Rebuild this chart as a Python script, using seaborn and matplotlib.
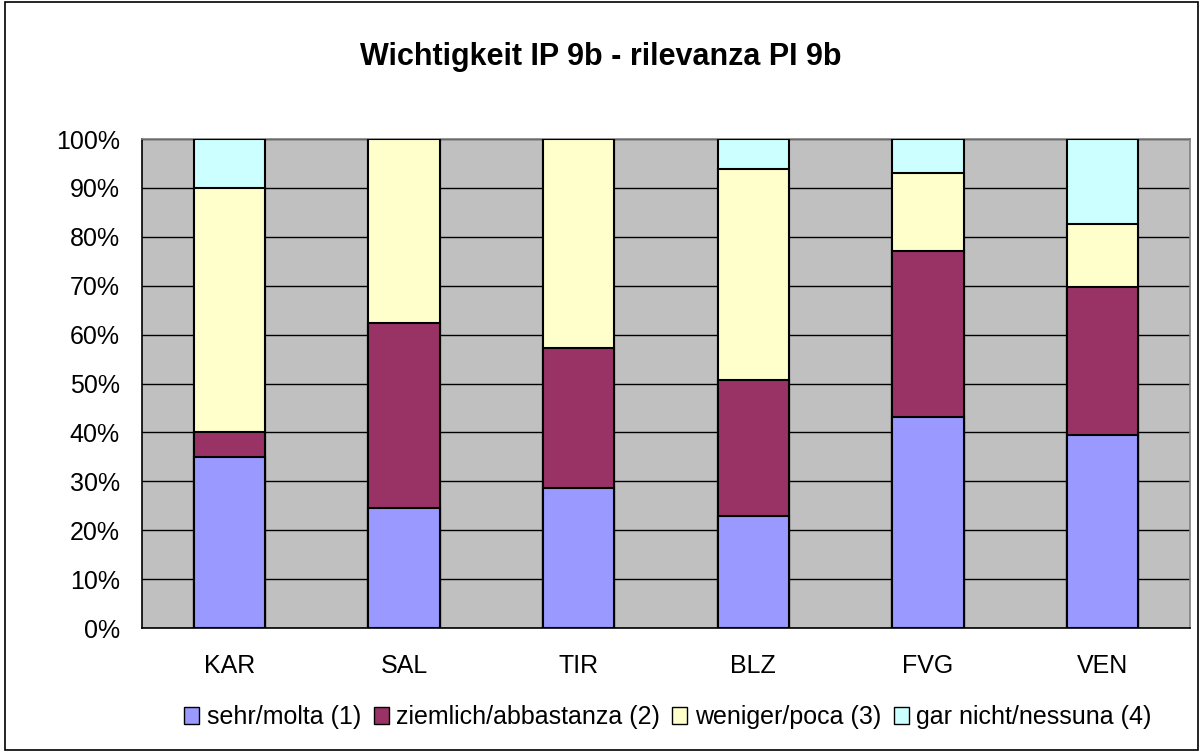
import matplotlib
matplotlib.use("Agg")
import matplotlib.pyplot as plt
import seaborn as sns
import numpy as np
import pandas as pd
from matplotlib.ticker import FixedLocator, FuncFormatter
from matplotlib.patches import Patch

categories = ["KAR", "SAL", "TIR", "BLZ", "FVG", "VEN"]
sehr = [35.0, 24.5, 28.6, 22.9, 43.1, 39.5]
ziemlich = [5.0, 37.9, 28.6, 27.8, 33.9, 30.3]
weniger = [50.0, 37.6, 42.8, 43.2, 16.1, 12.9]
garnicht = [10.0, 0.0, 0.0, 6.1, 6.9, 17.3]
series_names = ["sehr/molta (1)", "ziemlich/abbastanza (2)", "weniger/poca (3)", "gar nicht/nessuna (4)"]
colors = ["#9999FF", "#993366", "#FFFFCC", "#CCFFFF"]
title = "Wichtigkeit IP 9b - rilevanza PI 9b"
yticks = [0, 10, 20, 30, 40, 50, 60, 70, 80, 90, 100]

sns.set_style("white")
plt.rcParams['font.family'] = ['Liberation Sans', 'DejaVu Sans']
plt.rcParams['text.color'] = 'black'
plt.rcParams['xtick.color'] = 'black'
plt.rcParams['ytick.color'] = 'black'
plt.rcParams['axes.labelcolor'] = 'black'

series = [sehr, ziemlich, weniger, garnicht]
cum = np.cumsum(np.array(series), axis=0)

fig = plt.figure(figsize=(12.02, 7.52), dpi=100)
ax = fig.add_axes([142/1202, 1 - 628/752, (1190-142)/1202, (628-139)/752])
ax.set_facecolor("#C0C0C0")

# draw cumulative bars from top down so lower segments overlay
for i in range(3, -1, -1):
    df = pd.DataFrame({"cat": categories, "val": cum[i]})
    sns.barplot(data=df, x="cat", y="val", color=colors[i], saturation=1,
                edgecolor="black", linewidth=1.5, width=0.41, ax=ax, zorder=3)

ax.set_xlim(-0.5, 5.5)
ax.set_ylim(0, 100)
ax.yaxis.set_major_locator(FixedLocator(yticks))
ax.yaxis.set_major_formatter(FuncFormatter(lambda v, p: f"{int(v)}%"))
ax.grid(axis="y", color="black", linewidth=1, zorder=0)
ax.set_axisbelow(True)

ax.set_xticks(np.arange(-0.5, 6, 1))
ax.set_xticklabels([])
ax.set_xticks(np.arange(6), minor=True)
ax.set_xticklabels(categories, minor=True)
ax.tick_params(axis="x", which="major", length=6, width=1, color="black", direction="out")
ax.tick_params(axis="x", which="minor", length=0, pad=19, labelsize=18, labelcolor="black")
ax.tick_params(axis="y", which="major", length=7, width=1, color="black", direction="out",
               labelsize=18, pad=9, labelcolor="black")
ax.set_xlabel("")
ax.set_ylabel("")

for s in ["top", "right"]:
    ax.spines[s].set_color("#808080")
    ax.spines[s].set_linewidth(1.2)
for s in ["left", "bottom"]:
    ax.spines[s].set_color("black")
    ax.spines[s].set_linewidth(1.2)
    ax.spines[s].set_visible(True)

fig.text(0.5, 1 - 57/752, title, ha="center", va="center", fontsize=22,
         fontweight="bold", color="black")

handles = [Patch(facecolor=c, edgecolor="black", linewidth=1) for c in colors]
leg = fig.legend(handles, series_names, loc="center", bbox_to_anchor=(668/1202, 1 - 717/752),
                 ncol=4, frameon=False, fontsize=18, handlelength=0.6, handleheight=0.7,
                 handletextpad=0.3, columnspacing=0.5)
for t in leg.get_texts():
    t.set_color("black")

border = plt.Rectangle((0.004, 0.003), 0.993, 0.994, transform=fig.transFigure,
                       fill=False, edgecolor="black", linewidth=1.2)
fig.patches.append(border)

fig.savefig("out.png", dpi=100)
